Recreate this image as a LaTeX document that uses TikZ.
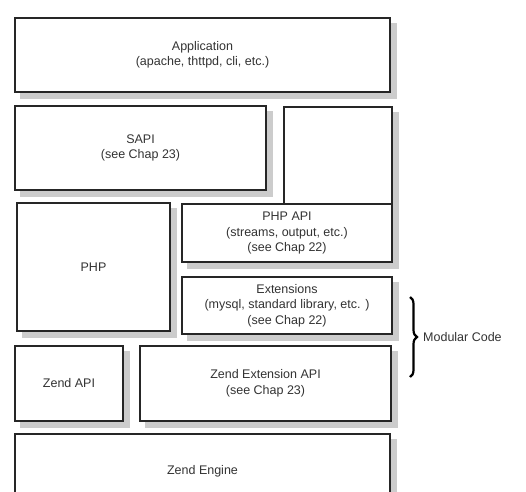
\documentclass[tikz,border=0pt]{standalone}
\usepackage{fontspec}
\setmainfont{Liberation Sans}
\usetikzlibrary{decorations.pathreplacing,backgrounds}
\begin{document}
\begin{tikzpicture}[x=1pt,y=-1pt,
  layer/.style={draw=black!85, line width=1.6pt, fill=white, align=center,
    text=black!80, inner sep=0pt, font=\fontsize{12.5}{15.5}\selectfont},
  shadowc/.style={fill=black!20},
  lbl/.style={text=black!80, font=\fontsize{12.5}{15.5}\selectfont, inner sep=0pt}]
\useasboundingbox (0,0) rectangle (526,491);
\clip (0,0) rectangle (526,491);
\node[layer, minimum width=375, minimum height=74] (app) at (202.5,55) {Application\\(apache, thttpd, cli, etc.)};
\node[layer, minimum width=251, minimum height=84] (sapi) at (140.5,148) {SAPI\\(see Chap 23)};
\node[layer, minimum width=108, minimum height=97] (tall) at (338,155.5) {};
\node[layer, minimum width=210, minimum height=58] (phpapi) at (287,233) {PHP API\\(streams, output, etc.)\\(see Chap 22)};
\node[layer, minimum width=153, minimum height=128] (php) at (93.5,267) {PHP};
\node[layer, minimum width=210, minimum height=57] (ext) at (287,305.5) {Extensions\\(mysql, standard library, etc. )\\(see Chap 22)};
\node[layer, minimum width=108, minimum height=75] (zapi) at (69,383.5) {Zend API};
\node[layer, minimum width=251, minimum height=75] (zext) at (265.5,383.5) {Zend Extension API\\(see Chap 23)};
\node[layer, minimum width=375, minimum height=75] (zeng) at (202.5,471.5) {Zend Engine};
\begin{scope}[on background layer]
  \fill[white] (0,0) rectangle (526,491);
  \foreach \n in {app,sapi,tall,phpapi,php,ext,zapi,zext,zeng}
    \fill[shadowc] ([shift={(6,6)}]\n.north west) rectangle ([shift={(6,6)}]\n.south east);
\end{scope}
\coordinate (btop) at (410,297);
\coordinate (bbot) at (410,377);
\draw[decorate, decoration={brace, amplitude=7pt}, line width=2.2pt, black] (btop) -- (bbot);
\node[lbl, anchor=west] (mod) at (423,337) {Modular Code};
\end{tikzpicture}
\end{document}
